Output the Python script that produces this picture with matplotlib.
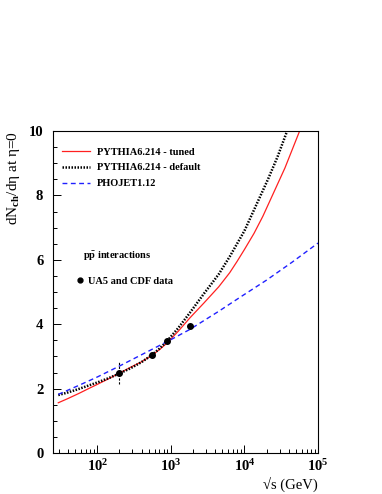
import numpy as np
import matplotlib
matplotlib.use('Agg')
import matplotlib.pyplot as plt
from matplotlib.lines import Line2D
from matplotlib.ticker import FixedLocator, FuncFormatter, MultipleLocator

plt.rcParams['font.family'] = ['Liberation Serif', 'DejaVu Serif']
plt.rcParams['font.weight'] = 'bold'
plt.rcParams['mathtext.fontset'] = 'custom'
plt.rcParams['mathtext.rm'] = 'Liberation Serif:bold'
plt.rcParams['mathtext.bf'] = 'Liberation Serif:bold'
plt.rcParams['mathtext.it'] = 'Liberation Serif:bold:italic'

# curves (sqrt(s) in GeV, dN/deta)
tuned_x = [29.5, 39.8, 56.2, 79.4, 100, 141, 200, 282, 398, 550, 708, 891,
           1259, 1820, 2818, 4467, 6310, 7943, 10000, 13490, 17780, 25120,
           35480, 56230]
tuned_y = [1.56, 1.69, 1.85, 2.02, 2.13, 2.30, 2.48, 2.66, 2.83, 3.03, 3.22,
           3.42, 3.78, 4.20, 4.66, 5.16, 5.60, 5.95, 6.32, 6.82, 7.35, 8.10,
           8.85, 10.0]

default_x = [29.5, 39.8, 56.2, 79.4, 100, 141, 200, 282, 398, 550, 708, 891,
             1259, 1820, 2818, 4467, 6310, 10000, 14130, 20890, 28180, 38020]
default_y = [1.80, 1.88, 1.99, 2.11, 2.19, 2.32, 2.47, 2.63, 2.82, 3.04, 3.25,
             3.48, 3.88, 4.36, 4.95, 5.55, 6.10, 6.90, 7.65, 8.50, 9.20, 10.0]

phojet_x = [29.5, 56.2, 100, 200, 398, 1000, 1820, 4467, 8900, 20000, 44700,
            100000]
phojet_y = [1.82, 2.10, 2.36, 2.70, 3.05, 3.52, 3.84, 4.40, 4.85, 5.37, 5.93,
            6.52]

# UA5 and CDF data
data_x = [200, 546, 900, 1800]
data_y = [2.48, 3.05, 3.48, 3.95]
data_err = [0.35, 0.06, 0.10, 0.08]

fig = plt.figure(figsize=(3.82, 4.94), dpi=100)
ax = fig.add_axes([0.1387, 0.083, 0.6938, 0.6518])

ax.plot(tuned_x, tuned_y, color='#ff2020', lw=0.9, label='PYTHIA6.214 - tuned')
ax.plot(default_x, default_y, color='black', lw=1.8, ls=(0, (0.6, 0.6)),
        label='PYTHIA6.214 - default')
ax.plot(phojet_x, phojet_y, color='#2020ff', lw=1.0, ls=(0, (3.5, 2.5)),
        label='PHOJET1.12')

eb = ax.errorbar(data_x, data_y, yerr=data_err, fmt='o', color='black', ms=4,
                 elinewidth=0.8, capsize=0)
eb[2][0].set_linestyle((0, (2, 1.5)))

ax.set_xscale('log')
ax.set_xlim(25, 1e5)
ax.set_ylim(0, 10)

ax.xaxis.set_major_locator(FixedLocator([1e2, 1e3, 1e4, 1e5]))
ax.xaxis.set_major_formatter(FuncFormatter(
    lambda v, p: r'$\mathbf{10^{%d}}$' % round(np.log10(v))))
ax.yaxis.set_major_locator(MultipleLocator(2))
ax.yaxis.set_minor_locator(MultipleLocator(0.5))
ax.yaxis.set_major_formatter(FuncFormatter(lambda v, p: '%d' % v))

ax.tick_params(which='both', direction='in', top=False, right=False,
               labelsize=10.5, width=0.7)
ax.tick_params(which='major', length=6)
ax.tick_params(which='minor', length=3)
ax.tick_params(axis='y', pad=7)
ax.tick_params(axis='x', pad=4)
for s in ax.spines.values():
    s.set_linewidth(0.8)

ax.set_ylabel(r'dN$_{\mathbf{ch}}$/dη at η=0', fontsize=11, loc='top', labelpad=5)
ax.set_xlabel('√s (GeV)', fontsize=10.5, loc='right', labelpad=2)

leg = ax.legend(loc='upper left', bbox_to_anchor=(0.02, 0.962), frameon=False,
                fontsize=7.5, handlelength=2.6, handletextpad=0.7,
                labelspacing=0.62, borderaxespad=0)
ax.add_artist(leg)

ax.text(0.113, 0.61, r'$\mathbf{p\bar{p}}$ interactions', transform=ax.transAxes,
        fontsize=7.5, va='center', ha='left')
dot = Line2D([], [], ls='none', marker='o', color='black', ms=3.5)
ax.legend([dot], ['UA5 and CDF data'], loc='center left',
          bbox_to_anchor=(0.07, 0.534), frameon=False, fontsize=7.5,
          handlelength=0.8, handletextpad=0.4, borderaxespad=0)

fig.savefig('out.png', dpi=100)
